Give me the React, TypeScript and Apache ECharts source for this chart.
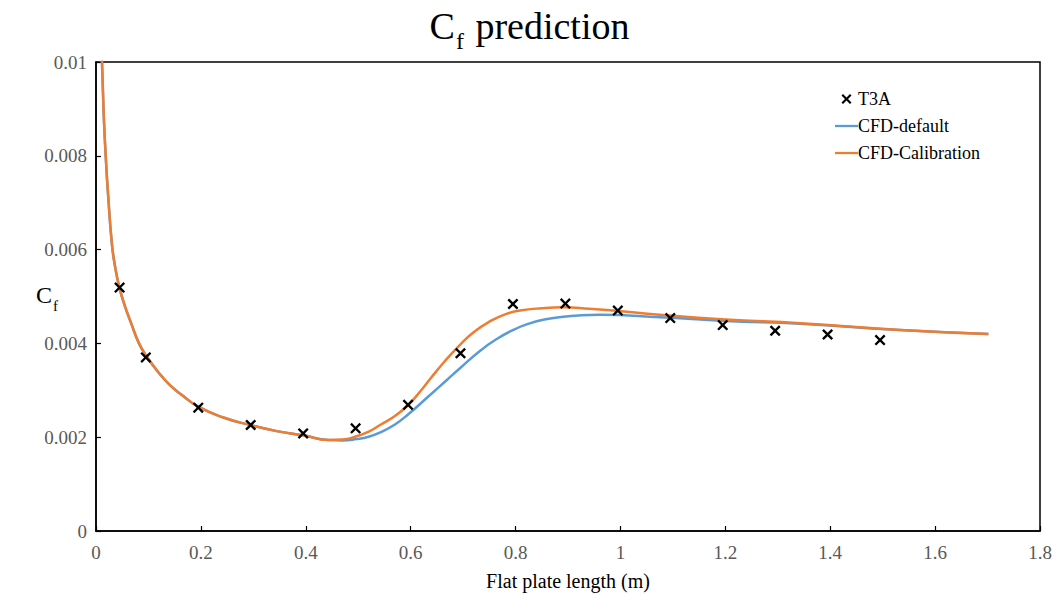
import React, { useEffect, useRef } from "react";
import * as echarts from "echarts";

// T3A experimental data
const t3aX = [0.045, 0.095, 0.195, 0.295, 0.395, 0.495, 0.595, 0.695, 0.795, 0.895, 0.995, 1.095, 1.195, 1.295, 1.395, 1.495];
const t3aCf = [0.00519, 0.0037, 0.00263, 0.00226, 0.00208, 0.00219, 0.00269, 0.00379, 0.00484, 0.00485, 0.0047, 0.00454, 0.00439, 0.00427, 0.00419, 0.00407];

// CFD-Calibration curve
const calX = [0.008, 0.0114, 0.015, 0.019, 0.0229, 0.0305, 0.037, 0.0444, 0.055, 0.068, 0.082, 0.0967, 0.12, 0.141, 0.165, 0.195, 0.2428, 0.2937, 0.3446, 0.395, 0.443, 0.47, 0.497, 0.52, 0.5416, 0.57, 0.5955, 0.62, 0.637, 0.665, 0.694, 0.72, 0.751, 0.78, 0.8086, 0.85, 0.891, 0.94, 0.9865, 1.075, 1.2, 1.3425, 1.533, 1.7016];
const calCf = [0.0108, 0.01, 0.0088, 0.0079, 0.0072, 0.0061, 0.0056, 0.0052, 0.0048, 0.0044, 0.004, 0.00372, 0.00337, 0.00311, 0.00289, 0.00265, 0.00242, 0.00226, 0.00213, 0.00204, 0.00194, 0.00195, 0.00202, 0.00212, 0.00226, 0.00245, 0.00269, 0.003, 0.00324, 0.00362, 0.00397, 0.00424, 0.00447, 0.00462, 0.0047, 0.00475, 0.00477, 0.00474, 0.0047, 0.00461, 0.00451, 0.00443, 0.004286, 0.0042];

// CFD-default curve
const defX = [0.008, 0.0114, 0.015, 0.019, 0.0229, 0.0305, 0.037, 0.0444, 0.055, 0.068, 0.082, 0.0967, 0.12, 0.141, 0.165, 0.195, 0.2428, 0.2937, 0.3446, 0.395, 0.443, 0.47, 0.497, 0.52, 0.5416, 0.57, 0.5955, 0.63, 0.669, 0.694, 0.732, 0.765, 0.796, 0.825, 0.855, 0.891, 0.925, 0.96, 1.075, 1.2, 1.3425, 1.533, 1.7016];
const defCf = [0.0108, 0.01, 0.0088, 0.0079, 0.0072, 0.0061, 0.0056, 0.0052, 0.0048, 0.0044, 0.004, 0.00372, 0.00337, 0.00311, 0.00289, 0.00265, 0.00242, 0.00226, 0.00213, 0.00204, 0.00194, 0.00193, 0.00196, 0.00201, 0.0021, 0.00227, 0.00249, 0.00283, 0.00322, 0.00347, 0.00384, 0.0041, 0.00429, 0.00442, 0.00451, 0.00457, 0.0046, 0.00461, 0.00456, 0.00448, 0.00442, 0.004286, 0.0042];

const SERIES_NAMES = ["T3A", "CFD-default", "CFD-Calibration"];
const FONT = "'Liberation Serif', 'Times New Roman', serif";
const XPATH = "path://M1.5,0 L5,3.5 L8.5,0 L10,1.5 L6.5,5 L10,8.5 L8.5,10 L5,6.5 L1.5,10 L0,8.5 L3.5,5 L0,1.5 Z";
const LINE_ICON = "path://M0,0 L24,0 L24,2.4 L0,2.4 Z";

const zip = (xs: number[], ys: number[]) => xs.map((x, i) => [x, ys[i]]);

export default function App() {
  const ref = useRef<HTMLDivElement>(null);
  useEffect(() => {
    if (!ref.current) return;
    const chart = echarts.init(ref.current, undefined, { renderer: "svg" });
    chart.setOption({
      animation: false,
      backgroundColor: "#ffffff",
      title: {
        text: "{c|C}{s|f}{c| prediction}",
        left: "center",
        top: 2,
        textStyle: {
          fontFamily: FONT,
          fontWeight: "normal",
          color: "#000",
          rich: {
            c: { fontFamily: FONT, fontWeight: "normal", fontSize: 38, lineHeight: 44, verticalAlign: "top", color: "#000" },
            s: { fontFamily: FONT, fontWeight: "normal", fontSize: 24, lineHeight: 24, padding: [22, 2, 0, 1], verticalAlign: "top", color: "#000" },
          },
        },
      },
      graphic: [
        {
          type: "text",
          x: 36,
          y: 283,
          style: {
            text: "{c|C}{s|f}",
            rich: {
              c: { fontFamily: FONT, fontSize: 24, lineHeight: 28, verticalAlign: "top", fill: "#000" },
              s: { fontFamily: FONT, fontSize: 15, lineHeight: 15, padding: [15, 0, 0, 1], verticalAlign: "top", fill: "#000" },
            },
          },
        },
      ],
      legend: {
        orient: "vertical",
        left: 830,
        top: 85,
        itemWidth: 23,
        itemHeight: 10,
        itemGap: 9,
        data: [
          { name: SERIES_NAMES[0], icon: XPATH },
          { name: SERIES_NAMES[1], icon: LINE_ICON },
          { name: SERIES_NAMES[2], icon: LINE_ICON },
        ],
        textStyle: { fontFamily: FONT, fontSize: 18, color: "#000", padding: [0, 0, 0, -5] },
      },
      grid: {
        left: 96,
        right: 19,
        top: 62,
        bottom: 73,
        show: true,
        borderColor: "#000",
        borderWidth: 1.5,
        backgroundColor: "transparent",
      },
      xAxis: {
        type: "value",
        min: 0,
        max: 1.8,
        interval: 0.2,
        name: "Flat plate length (m)",
        nameLocation: "middle",
        nameGap: 40,
        nameTextStyle: { fontFamily: FONT, fontSize: 20, color: "#000" },
        axisLine: { show: true, lineStyle: { color: "#000", width: 1.5 } },
        axisTick: { show: true, inside: true, length: 5, lineStyle: { color: "#000", width: 1.2 } },
        axisLabel: {
          fontFamily: FONT,
          fontSize: 19,
          color: "#595959",
          margin: 12,
          formatter: (v: number) => String(parseFloat(v.toFixed(1))),
        },
        splitLine: { show: false },
      },
      yAxis: {
        type: "value",
        min: 0,
        max: 0.01,
        interval: 0.002,
        axisLine: { show: true, lineStyle: { color: "#000", width: 1.5 } },
        axisTick: { show: true, inside: true, length: 5, lineStyle: { color: "#000", width: 1.2 } },
        axisLabel: {
          fontFamily: FONT,
          fontSize: 19,
          color: "#595959",
          margin: 9,
          formatter: (v: number) => String(parseFloat(v.toFixed(3))),
        },
        splitLine: { show: false },
      },
      series: [
        {
          name: SERIES_NAMES[1],
          type: "line",
          data: zip(defX, defCf),
          showSymbol: false,
          symbol: "none",
          smooth: 0.5,
          lineStyle: { color: "#5B9BD5", width: 2.5 },
          itemStyle: { color: "#5B9BD5" },
          z: 2,
        },
        {
          name: SERIES_NAMES[2],
          type: "line",
          data: zip(calX, calCf),
          showSymbol: false,
          symbol: "none",
          smooth: 0.5,
          lineStyle: { color: "#ED7D31", width: 2.5 },
          itemStyle: { color: "#ED7D31" },
          z: 3,
        },
        {
          name: SERIES_NAMES[0],
          type: "scatter",
          data: zip(t3aX, t3aCf),
          symbol: XPATH,
          symbolSize: 11,
          itemStyle: { color: "#000", opacity: 1 },
          z: 4,
        },
      ],
    });
    return () => chart.dispose();
  }, []);
  return <div ref={ref} style={{ position: "fixed", left: 0, top: 0, width: 1059, height: 604 }} />;
}
